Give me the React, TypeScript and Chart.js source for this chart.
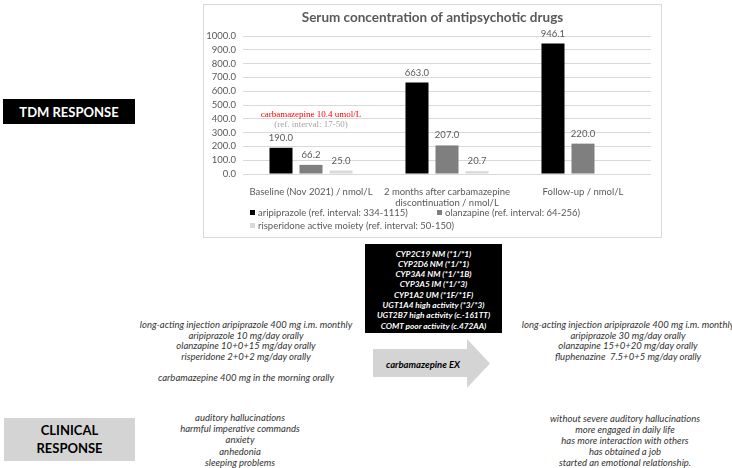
import React, { useEffect, useRef } from "react";
import { Chart, registerables } from "chart.js";

Chart.register(...registerables);

// ---------- data ----------
const categories: string[][] = [
  ["Baseline (Nov 2021) / nmol/L"],
  ["2 months after carbamazepine", "discontinuation / nmol/L"],
  ["Follow-up / nmol/L"],
];
const aripiprazole = [190.0, 663.0, 946.1];
const olanzapine = [66.2, 207.0, 220.0];
const risperidone: (number | null)[] = [25.0, 20.7, null];
const seriesNames = [
  "aripiprazole (ref. interval: 334-1115)",
  "olanzapine (ref. interval: 64-256)",
  "risperidone active moiety (ref. interval: 50-150)",
];
const seriesColors = ["#000000", "#7f7f7f", "#d9d9d9"];
const yMin = 0;
const yMax = 1000;
const yStep = 100;
const chartTitle = "Serum concentration of antipsychotic drugs";
const annotationRed = "carbamazepine 10.4 umol/L";
const annotationGray = "(ref. interval: 17-50)";

const geneLines = [
  "CYP2C19 NM (*1/*1)",
  "CYP2D6 NM (*1/*1)",
  "CYP3A4 NM (*1/*1B)",
  "CYP3A5 IM (*1/*3)",
  "CYP1A2 UM (*1F/*1F)",
  "UGT1A4 high activity (*3/*3)",
  "UGT2B7 high activity (c.-161TT)",
  "COMT poor activity (c.472AA)",
];
const arrowLabel = "carbamazepine EX";
const beforeMeds = [
  "long-acting injection aripiprazole 400 mg i.m. monthly",
  "aripiprazole 10 mg/day orally",
  "olanzapine 10+0+15 mg/day orally",
  "risperidone 2+0+2 mg/day orally",
  "",
  "carbamazepine 400 mg in the morning orally",
];
const afterMeds = [
  "long-acting injection aripiprazole 400 mg i.m. monthly",
  "aripiprazole 30 mg/day orally",
  "olanzapine 15+0+20 mg/day orally",
  "fluphenazine  7.5+0+5 mg/day orally",
];
const beforeClinical = [
  "auditory hallucinations",
  "harmful imperative commands",
  "anxiety",
  "anhedonia",
  "sleeping problems",
];
const afterClinical = [
  "without severe auditory hallucinations",
  "more engaged in daily life",
  "has more interaction with others",
  "has obtained a job",
  "started an emotional relationship.",
];
const tdmLabel = "TDM RESPONSE";
const clinicalLabel = ["CLINICAL", "RESPONSE"];

const FONT = "Lato, 'Open Sans', sans-serif";
const TEXT_GRAY = "#595959";

const overlayPlugin = {
  id: "overlay",
  afterDatasetsDraw(chart: any) {
    const ctx = chart.ctx;
    const area = chart.chartArea;
    ctx.save();
    // data labels
    ctx.font = `9.5px ${FONT}`;
    ctx.fillStyle = TEXT_GRAY;
    ctx.textAlign = "center";
    ctx.textBaseline = "middle";
    chart.data.datasets.forEach((ds: any, di: number) => {
      const meta = chart.getDatasetMeta(di);
      meta.data.forEach((el: any, i: number) => {
        const v = ds.data[i];
        if (v === null || v === undefined) return;
        ctx.fillText(Number(v).toFixed(1), el.x, el.y - 10);
      });
    });
    // annotation over baseline group
    const xs = chart.scales.x;
    const cx = xs.getPixelForValue(0);
    const firstBar = chart.getDatasetMeta(0).data[0];
    ctx.font = `9px 'Liberation Serif', serif`;
    ctx.fillStyle = "#ff0000";
    ctx.fillText(annotationRed, cx, firstBar.y - 33);
    ctx.fillStyle = "#a6a6a6";
    ctx.fillText(annotationGray, cx, firstBar.y - 23);
    // title
    ctx.font = `bold 13.5px ${FONT}`;
    ctx.fillStyle = TEXT_GRAY;
    ctx.fillText(chartTitle, chart.width / 2, 13);
    // legend
    ctx.font = `9.5px ${FONT}`;
    ctx.textAlign = "left";
    const pos = [
      [area.left + 7, area.bottom + 39],
      [area.left + 194, area.bottom + 39],
      [area.left + 7, area.bottom + 52],
    ];
    seriesNames.forEach((name, i) => {
      const [x, y] = pos[i];
      ctx.fillStyle = seriesColors[i];
      ctx.fillRect(x, y - 3, 5, 5);
      ctx.fillStyle = TEXT_GRAY;
      ctx.fillText(name, x + 8, y);
    });
    ctx.restore();
  },
};

function BarChart() {
  const ref = useRef<HTMLCanvasElement>(null);
  useEffect(() => {
    if (!ref.current) return;
    const chart = new Chart(ref.current, {
      type: "bar",
      data: {
        labels: categories,
        datasets: [
          { label: seriesNames[0], data: aripiprazole, backgroundColor: seriesColors[0] },
          { label: seriesNames[1], data: olanzapine, backgroundColor: seriesColors[1] },
          { label: seriesNames[2], data: risperidone as any, backgroundColor: seriesColors[2] },
        ],
      },
      options: {
        animation: false,
        responsive: false,
        maintainAspectRatio: false,
        datasets: { bar: { categoryPercentage: 0.662, barPercentage: 0.767 } },
        layout: { padding: { top: 31, right: 10, left: 0, bottom: 0 } },
        plugins: {
          legend: { display: false },
          title: { display: false },
          tooltip: { enabled: false },
        },
        scales: {
          x: {
            grid: { display: false },
            border: { display: false },
            ticks: {
              color: TEXT_GRAY,
              font: { family: FONT, size: 9.5, lineHeight: 1.1 },
              padding: 5,
              maxRotation: 0,
              autoSkip: false,
            },
            afterFit(scale: any) {
              scale.height = 63;
            },
          },
          y: {
            min: yMin,
            max: yMax,
            border: { display: false },
            grid: { color: "#d9d9d9", drawTicks: false, lineWidth: 1 },
            ticks: {
              stepSize: yStep,
              autoSkip: false,
              color: TEXT_GRAY,
              font: { family: FONT, size: 9.5 },
              padding: 7,
              callback: (v: any) => Number(v).toFixed(1),
            },
            afterFit(scale: any) {
              scale.width = 39;
            },
          },
        },
      },
      plugins: [overlayPlugin],
    });
    return () => chart.destroy();
  }, []);
  return <canvas ref={ref} width={457} height={232} style={{ display: "block" }} />;
}

const abs = (x: number, y: number, w: number, h: number): React.CSSProperties => ({
  position: "absolute",
  left: x,
  top: y,
  width: w,
  height: h,
});

function TextBlock({ lines, cx, top, width, lh, style }: { lines: string[]; cx: number; top: number; width: number; lh: number; style?: React.CSSProperties }) {
  return (
    <div
      style={{
        position: "absolute",
        left: cx - width / 2,
        top,
        width,
        textAlign: "center",
        lineHeight: `${lh}px`,
        fontFamily: FONT,
        fontStyle: "italic",
        fontSize: 9.5,
        color: "#333333",
        whiteSpace: "pre",
        ...style,
      }}
    >
      {lines.map((l, i) => (
        <div key={i} style={{ height: lh }}>{l}</div>
      ))}
    </div>
  );
}

export default function App() {
  return (
    <div style={{ position: "absolute", left: 0, top: 0, width: 732, height: 468, background: "#fff", overflow: "hidden", fontFamily: FONT }}>
      {/* chart frame */}
      <div style={{ ...abs(203, 4, 459, 234), boxSizing: "border-box", border: "1px solid #d9d9d9" }}>
        <BarChart />
      </div>

      {/* TDM response label */}
      <div style={{ ...abs(3, 99, 132, 25), background: "#000", color: "#fff", fontWeight: 700, fontSize: 13, display: "flex", alignItems: "center", justifyContent: "center" }}>
        {tdmLabel}
      </div>

      {/* gene box */}
      <div style={{ ...abs(365, 244, 137, 89), background: "#000" }} />
      <TextBlock lines={geneLines} cx={433.5} top={248.5} width={137} lh={10.3} style={{ color: "#fff", fontWeight: 700, fontSize: 8.3 }} />

      {/* arrow */}
      <div
        style={{
          ...abs(373, 339, 117, 49),
          background: "#d4d4d4",
          clipPath: "polygon(0 10px, 94px 10px, 94px 0, 117px 24.5px, 94px 49px, 94px 38px, 0 38px)",
        }}
      />
      <TextBlock lines={[arrowLabel]} cx={423} top={359} width={110} lh={12} style={{ color: "#000", fontWeight: 700, fontSize: 9.5 }} />

      {/* medications */}
      <TextBlock lines={beforeMeds} cx={246} top={320} width={260} lh={10.5} />
      <TextBlock lines={afterMeds} cx={628} top={320} width={240} lh={10.5} />

      {/* clinical label */}
      <div style={{ ...abs(4, 418, 131, 43), background: "#d4d4d4", color: "#000", fontWeight: 700, fontSize: 13, lineHeight: "17.5px", display: "flex", flexDirection: "column", alignItems: "center", justifyContent: "center" }}>
        <div>{clinicalLabel[0]}</div>
        <div>{clinicalLabel[1]}</div>
      </div>

      {/* clinical text */}
      <TextBlock lines={beforeClinical} cx={240} top={412} width={200} lh={11.2} />
      <TextBlock lines={afterClinical} cx={625} top={412.5} width={220} lh={11.2} />
    </div>
  );
}
